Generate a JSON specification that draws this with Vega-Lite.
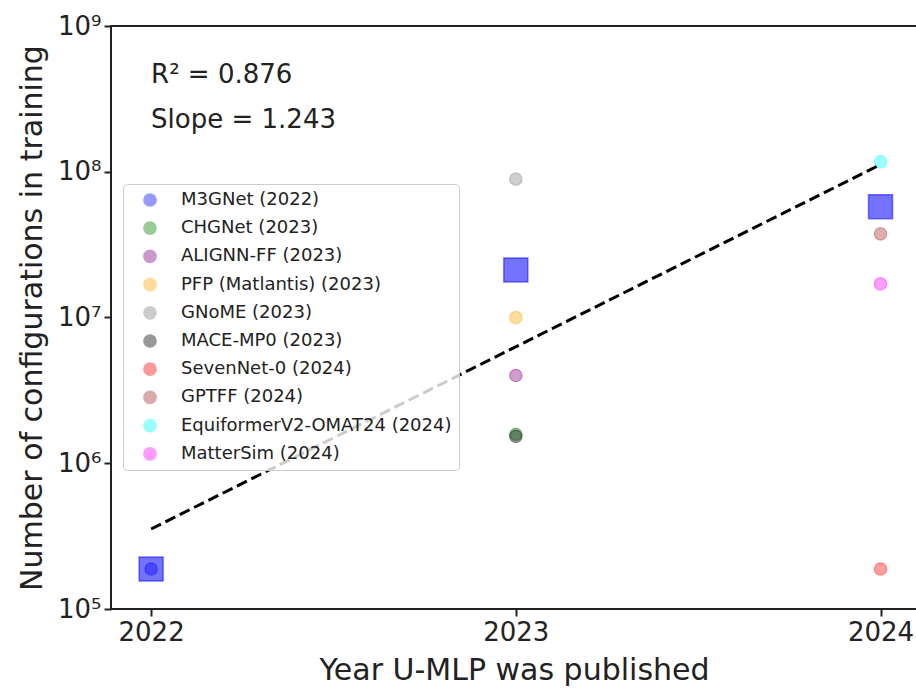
{
  "$schema": "https://vega.github.io/schema/vega-lite/v6.json",
  "width": 806,
  "height": 583,
  "autosize": "none",
  "padding": {"left": 111, "top": 26, "right": 0, "bottom": 79},
  "background": "white",
  "datasets": {
    "models": [
      {"model": "M3GNet (2022)", "year": 2022, "value": 188000},
      {"model": "CHGNet (2023)", "year": 2023, "value": 1580000},
      {"model": "ALIGNN-FF (2023)", "year": 2023, "value": 4000000},
      {"model": "PFP (Matlantis) (2023)", "year": 2023, "value": 10000000},
      {"model": "GNoME (2023)", "year": 2023, "value": 89000000},
      {"model": "MACE-MP0 (2023)", "year": 2023, "value": 1530000},
      {"model": "SevenNet-0 (2024)", "year": 2024, "value": 188000},
      {"model": "GPTFF (2024)", "year": 2024, "value": 37500000},
      {"model": "EquiformerV2-OMAT24 (2024)", "year": 2024, "value": 117000000},
      {"model": "MatterSim (2024)", "year": 2024, "value": 17000000}
    ],
    "means": [
      {"year": 2022, "value": 188000},
      {"year": 2023, "value": 21200000},
      {"year": 2024, "value": 57600000}
    ],
    "fit": [
      {"year": 2022, "value": 354000},
      {"year": 2024, "value": 112000000}
    ],
    "notes": [
      {"label": "R² = 0.876", "year": 2022, "value": 406000000},
      {"label": "Slope = 1.243", "year": 2022, "value": 200000000}
    ]
  },
  "encoding": {
    "x": {
      "field": "year",
      "type": "quantitative",
      "scale": {"domain": [2021.89, 2024.1], "nice": false, "zero": false},
      "axis": {
        "values": [2022, 2023, 2024],
        "format": "d",
        "title": "Year U-MLP was published",
        "titleFontSize": 30,
        "titleFontWeight": "normal",
        "titlePadding": 10,
        "labelFontSize": 26,
        "labelPadding": 3,
        "tickSize": 7,
        "tickWidth": 2,
        "tickColor": "#222",
        "labelColor": "#222",
        "titleColor": "#222",
        "domain": false,
        "grid": false,
        "labelFlush": false
      }
    },
    "y": {
      "field": "value",
      "type": "quantitative",
      "scale": {"type": "log", "domain": [100000, 1000000000], "nice": false},
      "axis": {
        "values": [100000, 1000000, 10000000, 100000000, 1000000000],
        "labelExpr": "datum.value == 100000 ? '10⁵' : datum.value == 1000000 ? '10⁶' : datum.value == 10000000 ? '10⁷' : datum.value == 100000000 ? '10⁸' : datum.value == 1000000000 ? '10⁹' : ''",
        "tickSize": 7,
        "tickWidth": 2,
        "title": "Number of configurations in training",
        "titleFontSize": 30,
        "titleFontWeight": "normal",
        "titlePadding": 10,
        "labelFontSize": 26,
        "labelPadding": 3,
        "tickColor": "#222",
        "labelColor": "#222",
        "titleColor": "#222",
        "domain": false,
        "grid": false,
        "labelFlush": false,
        "labelOverlap": false
      }
    }
  },
  "layer": [
    {
      "data": {"name": "models"},
      "mark": {"type": "circle", "size": 154, "fillOpacity": 0.38, "strokeOpacity": 0.38, "strokeWidth": 1.2},
      "encoding": {
        "color": {
          "field": "model",
          "type": "nominal",
          "scale": {
            "domain": ["M3GNet (2022)", "CHGNet (2023)", "ALIGNN-FF (2023)", "PFP (Matlantis) (2023)", "GNoME (2023)", "MACE-MP0 (2023)", "SevenNet-0 (2024)", "GPTFF (2024)", "EquiformerV2-OMAT24 (2024)", "MatterSim (2024)"],
            "range": ["#0000ff", "#008000", "#800080", "#ffa500", "#808080", "#000000", "#ff0000", "#a52a2a", "#00ffff", "#ff00ff"]
          },
          "legend": {
            "title": null,
            "orient": "none",
            "legendX": 12,
            "legendY": 158,
            "padding": 7,
            "symbolOffset": 11,
            "symbolSize": 150,
            "symbolType": "circle",
            "symbolOpacity": 0.4,
            "labelFontSize": 18,
            "labelFont": "DejaVu Sans",
            "labelColor": "#222",
            "labelOffset": 22,
            "labelLimit": 400,
            "rowPadding": 8.2,
            "strokeColor": "#cccccc",
            "fillColor": "rgba(255,255,255,0.8)",
            "cornerRadius": 4
          }
        },
        "stroke": {
          "field": "model",
          "type": "nominal",
          "scale": {
            "domain": ["M3GNet (2022)", "CHGNet (2023)", "ALIGNN-FF (2023)", "PFP (Matlantis) (2023)", "GNoME (2023)", "MACE-MP0 (2023)", "SevenNet-0 (2024)", "GPTFF (2024)", "EquiformerV2-OMAT24 (2024)", "MatterSim (2024)"],
            "range": ["#0000ff", "#008000", "#800080", "#ffa500", "#808080", "#000000", "#ff0000", "#a52a2a", "#00ffff", "#ff00ff"]
          },
          "legend": null
        }
      }
    },
    {
      "data": {"name": "means"},
      "mark": {"type": "square", "size": 576, "color": "#0000ff", "fillOpacity": 0.55, "stroke": "#0000ff", "strokeOpacity": 0.5, "strokeWidth": 1.5}
    },
    {
      "data": {"name": "fit"},
      "mark": {"type": "line", "color": "#000000", "strokeWidth": 3, "strokeDash": [11, 5]}
    },
    {
      "data": {"name": "notes"},
      "mark": {"type": "text", "align": "left", "baseline": "alphabetic", "fontSize": 26, "font": "DejaVu Sans", "color": "#222"},
      "encoding": {"text": {"field": "label", "type": "nominal"}}
    }
  ],
  "config": {
    "font": "DejaVu Sans",
    "view": {"stroke": "#222", "strokeWidth": 2},
    "axis": {"labelFont": "DejaVu Sans", "titleFont": "DejaVu Sans"}
  }
}
